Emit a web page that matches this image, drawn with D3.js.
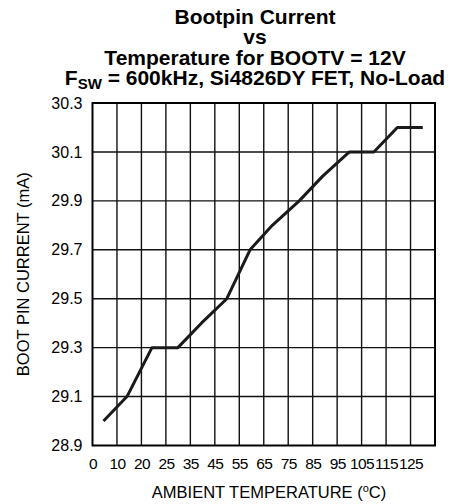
<!DOCTYPE html>
<html>
<head>
<meta charset="utf-8">
<script src="https://cdn.jsdelivr.net/npm/d3@7"></script>
<style>
  html, body { margin: 0; padding: 0; background: #fff; }
  svg { display: block; }
  text { font-family: "Liberation Sans", Arial, Helvetica, sans-serif; fill: #000; }
</style>
</head>
<body>
<svg id="chart" width="456" height="504"></svg>
<script>
// ---- data ----
const titleLines = ["Bootpin Current", "vs", "Temperature for BOOTV = 12V"];
const xTickValues = [0, 10, 20, 30, 40, 50, 60, 70, 80, 90, 100, 110, 120, 130];
const xTickLabels = ["0", "10", "20", "25", "35", "45", "55", "65", "75", "85", "95", "105", "115", "125"];
const yTickValues = [28.9, 29.1, 29.3, 29.5, 29.7, 29.9, 30.1, 30.3];
const temperature = [4.5, 14.1, 24.3, 34.9, 44.5, 54.9, 64.4, 73.5, 84.5, 94, 105, 115, 124.6, 135];
const bootCurrent = [29.0, 29.1, 29.3, 29.3, 29.4, 29.5, 29.7, 29.8, 29.9, 30.0, 30.1, 30.1, 30.2, 30.2];

// ---- layout ----
const svg = d3.select("#chart");
const pLeft = 92.5, pRight = 435, pTop = 103, pBottom = 445.5;

const x = d3.scaleLinear().domain([0, 140]).range([pLeft, pRight]);
const y = d3.scaleLinear().domain([28.9, 30.3]).range([pBottom, pTop]);

// title
const tcx = 255;
const title = svg.append("g").attr("font-weight", "bold").attr("font-size", 21).attr("text-anchor", "middle");
titleLines.forEach((t, i) => {
  title.append("text").attr("x", tcx).attr("y", 24 + i * 20.3).text(t);
});
const l4 = title.append("text").attr("x", tcx).attr("y", 85);
l4.append("tspan").text("F");
l4.append("tspan").attr("font-size", 15).attr("dy", 4).text("SW");
l4.append("tspan").attr("dy", -4).text(" = 600kHz, Si4826DY FET, No-Load");

// grid
const grid = svg.append("g").attr("stroke", "#111").attr("stroke-width", 1.4);
grid.selectAll("line.v").data(d3.range(10, 140, 10)).join("line").attr("class", "v")
  .attr("x1", d => x(d)).attr("x2", d => x(d)).attr("y1", pTop).attr("y2", pBottom);
grid.selectAll("line.h").data(yTickValues.slice(1, -1)).join("line").attr("class", "h")
  .attr("y1", d => y(d)).attr("y2", d => y(d)).attr("x1", pLeft).attr("x2", pRight);

// frame
svg.append("rect").attr("x", pLeft).attr("y", pTop).attr("width", pRight - pLeft).attr("height", pBottom - pTop)
  .attr("fill", "none").attr("stroke", "#000").attr("stroke-width", 2);

// axes (labels only)
const xAxis = d3.axisBottom(x).tickValues(xTickValues).tickFormat((d, i) => xTickLabels[i]).tickSize(0).tickPadding(12);
const gx = svg.append("g").attr("transform", `translate(0,${pBottom})`).call(xAxis);
gx.select(".domain").remove();
gx.selectAll("text").attr("font-size", 15.5).attr("font-family", "Liberation Sans, Arial, sans-serif").attr("fill", "#000").attr("letter-spacing", -0.6);

const yAxis = d3.axisLeft(y).tickValues(yTickValues).tickFormat(d3.format(".1f")).tickSize(0).tickPadding(10);
const gy = svg.append("g").attr("transform", `translate(${pLeft},0)`).call(yAxis);
gy.select(".domain").remove();
gy.selectAll("text").attr("font-size", 16).attr("font-family", "Liberation Sans, Arial, sans-serif").attr("fill", "#000");

// curve
const line = d3.line().x((d, i) => x(temperature[i])).y(d => y(d));
svg.append("path").datum(bootCurrent).attr("d", line)
  .attr("fill", "none").attr("stroke", "#1a1a1a").attr("stroke-width", 3).attr("stroke-linejoin", "round");

// axis titles
const xt = svg.append("text").attr("x", 269).attr("y", 498).attr("text-anchor", "middle").attr("font-size", 16.5);
xt.append("tspan").text("AMBIENT TEMPERATURE (");
xt.append("tspan").attr("font-size", 11).attr("dy", -6).text("o");
xt.append("tspan").attr("dy", 6).text("C)");

svg.append("text").attr("transform", `translate(29,${(pTop + pBottom) / 2}) rotate(-90)`)
  .attr("text-anchor", "middle").attr("font-size", 16.5).text("BOOT PIN CURRENT (mA)");
</script>
</body>
</html>
